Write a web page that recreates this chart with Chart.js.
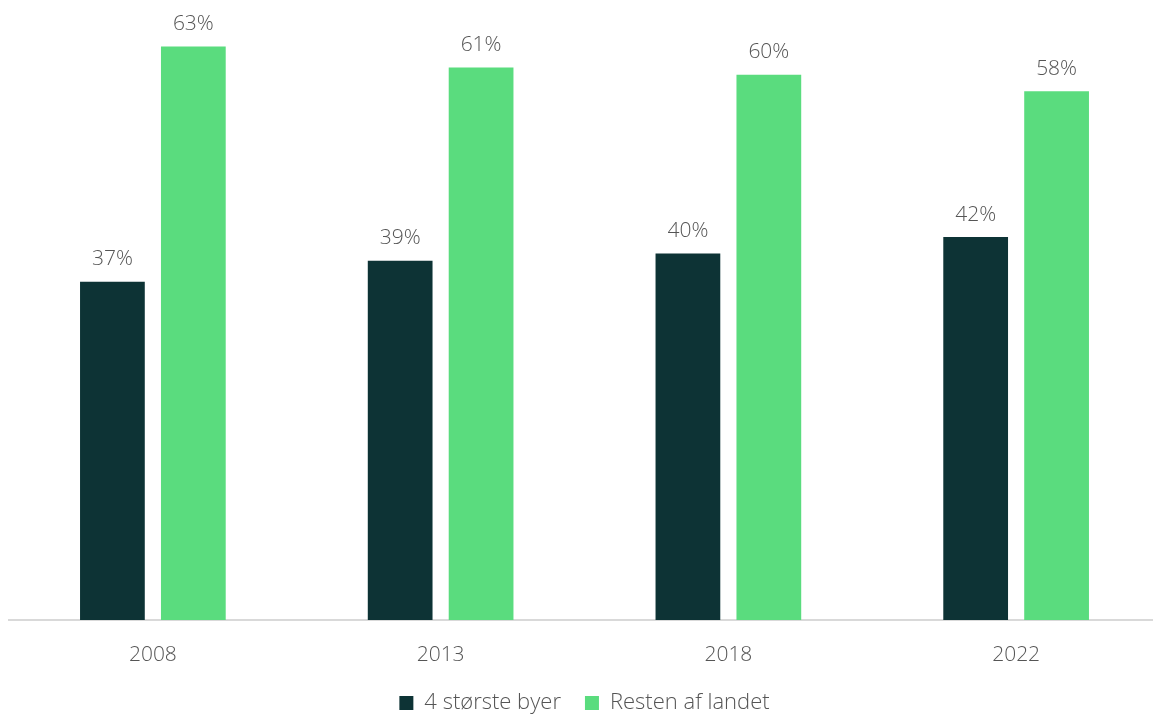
<!DOCTYPE html>
<html>
<head>
<meta charset="utf-8">
<script src="https://cdn.jsdelivr.net/npm/chart.js@4"></script>
<style>
  html, body { margin: 0; padding: 0; overflow: hidden; background: #fff; }
  #wrap { width: 1160px; height: 717px; position: relative; }
</style>
</head>
<body>
<div id="wrap"><canvas id="chart"></canvas></div>
<script>
const years = ['2008', '2013', '2018', '2022'];
const storsteByer = [37.1, 39.4, 40.2, 42.0];
const restenAfLandet = [62.9, 60.6, 59.8, 58.0];

const textColor = '#555555';
const fontFamily = '"Open Sans", Lato, sans-serif';

// value labels above each bar (rounded like the source)
const barLabels = {
  id: 'barLabels',
  afterDatasetsDraw(chart) {
    const ctx = chart.ctx;
    ctx.save();
    ctx.font = '300 21px ' + fontFamily;
    ctx.fillStyle = textColor;
    ctx.textAlign = 'center';
    ctx.textBaseline = 'bottom';
    chart.data.datasets.forEach((ds, i) => {
      chart.getDatasetMeta(i).data.forEach((bar, j) => {
        ctx.fillText(Math.round(ds.data[j]) + '%', bar.x, bar.y - 12);
      });
    });
    ctx.restore();
  }
};

const ctx = document.getElementById('chart').getContext('2d');
const myChart = new Chart(ctx, {
  type: 'bar',
  data: {
    labels: years,
    datasets: [
      {
        label: '4 største byer',
        data: storsteByer,
        backgroundColor: '#0d3335',
        categoryPercentage: 0.5625,
        barPercentage: 0.8,
      },
      {
        label: 'Resten af landet',
        data: restenAfLandet,
        backgroundColor: '#5adc7e',
        categoryPercentage: 0.5625,
        barPercentage: 0.8,
      }
    ]
  },
  options: {
    responsive: true,
    maintainAspectRatio: false,
    animation: false,
    layout: { padding: { left: 9, right: 0, top: 0, bottom: -7 } },
    plugins: {
      tooltip: { enabled: false },
      legend: {
        position: 'bottom',
        labels: {
          color: textColor,
          font: { family: fontFamily, size: 22, weight: 300 },
          boxWidth: 14,
          boxHeight: 14,
          padding: 24,
        }
      }
    },
    scales: {
      x: {
        grid: { display: false },
        border: { display: true, color: '#d9d9d9', width: 2 },
        ticks: {
          color: textColor,
          font: { family: fontFamily, size: 21, weight: 300 },
          padding: 14,
        },
        afterFit: (s) => { s.height = 48; }
      },
      y: {
        display: false,
        min: 0,
        max: 68,
      }
    }
  },
  plugins: [barLabels]
});
</script>
</body>
</html>
